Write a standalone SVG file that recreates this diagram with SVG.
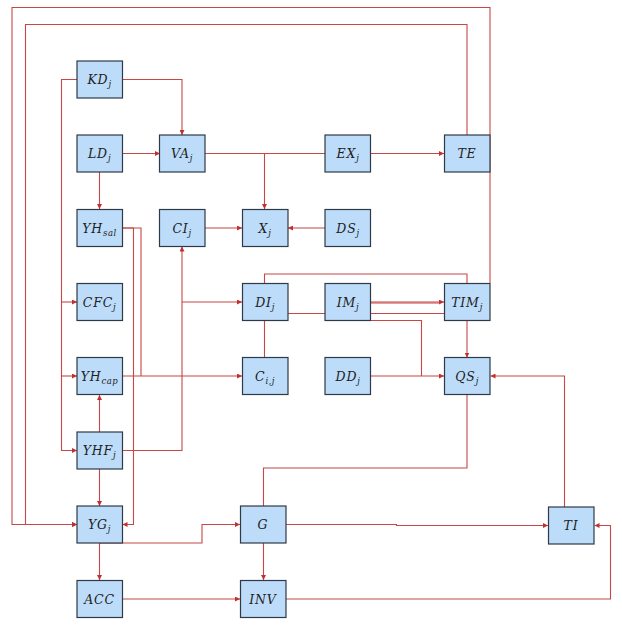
<svg xmlns="http://www.w3.org/2000/svg" width="622" height="625" viewBox="0 0 622 625">
  <style>
    .box { fill: #bcdcfa; stroke: #2f3a45; stroke-width: 1.2; }
    .lbl { font-family: "DejaVu Serif", "Liberation Serif", serif; font-style: italic; font-weight: normal; font-size: 12.5px; letter-spacing: 0.8px; fill: #222222; text-anchor: middle; }
    .sub { font-size: 8.5px; letter-spacing: 0.5px; }
    .wire { fill: none; stroke: #c84646; stroke-width: 1.1; }
    .arr { marker-end: url(#head); }
  </style>
  <defs>
    <marker id="head" viewBox="0 0 6 6" refX="6" refY="3" markerWidth="5" markerHeight="5" markerUnits="userSpaceOnUse" orient="auto">
      <path d="M0,0 L6,3 L0,6 z" fill="#c03030"/>
    </marker>
  </defs>
  <rect width="622" height="625" fill="#ffffff"/>

  <!-- connectors -->
  <g id="connectors">
    <!-- TIM feedback around the outside into YG -->
    <path class="wire arr" d="M490,283 V7.5 H12 V524.5 H77"/>
    <!-- TE feedback into YG -->
    <path class="wire arr" d="M467,135 V24.5 H25.5 V524.5 H77"/>
    <!-- KD bus on the left -->
    <path class="wire arr" d="M77,79.5 H61.5 V450.5 H77"/>
    <path class="wire arr" d="M61.5,302 H77"/>
    <path class="wire arr" d="M61.5,376 H77"/>
    <!-- KD to VA -->
    <path class="wire arr" d="M122,79.5 H182 V135"/>
    <!-- LD -->
    <path class="wire arr" d="M122,153.5 H160"/>
    <path class="wire arr" d="M99.5,172 V209"/>
    <!-- VA to EX and X -->
    <path class="wire" d="M205,153.5 H325"/>
    <path class="wire arr" d="M264.5,153.5 V209"/>
    <path class="wire arr" d="M370,153.5 H444"/>
    <!-- into X -->
    <path class="wire arr" d="M205,228 H242"/>
    <path class="wire arr" d="M325,228 H288"/>
    <!-- YH_sal outputs -->
    <path class="wire arr" d="M122,228 H133.5 V524.5 H122.5"/>
    <path class="wire" d="M122,228 H141 V376"/>
    <!-- YH_cap to C_ij -->
    <path class="wire arr" d="M122,376 H242"/>
    <!-- YHF to CI and DI -->
    <path class="wire arr" d="M122,450.5 H182 V246.5"/>
    <path class="wire arr" d="M182,302 H242"/>
    <!-- YHF up to YH_cap, down to YG -->
    <path class="wire arr" d="M99.5,432 V395"/>
    <path class="wire arr" d="M99.5,469 V506"/>
    <!-- YG to ACC and G -->
    <path class="wire arr" d="M99.5,543 V580"/>
    <path class="wire arr" d="M100,543 H202 V524.5 H240"/>
    <!-- ACC to INV -->
    <path class="wire arr" d="M122,599 H240"/>
    <!-- G to TI -->
    <path class="wire arr" d="M286,524.5 H396.5 V525.5 H548"/>
    <!-- INV to TI -->
    <path class="wire arr" d="M286,599 H610.5 V525.5 H594.5"/>
    <!-- TI to QS -->
    <path class="wire arr" d="M564.5,507 V376 H490.5"/>
    <!-- QS to INV -->
    <path class="wire arr" d="M467,394.5 V468 H263.5 V580"/>
    <!-- IM to TIM -->
    <path class="wire arr" d="M370,302 H444"/>
    <path class="wire" d="M370,303 H440"/>
    <!-- DI to QS -->
    <path class="wire arr" d="M264.5,283 V274 H467 V357.5"/>
    <!-- C_ij to QS -->
    <path class="wire" d="M264.5,358 V313.5 H467"/>
    <!-- IM to QS -->
    <path class="wire" d="M348,320.5 H421.5 V376"/>
    <!-- DD to QS -->
    <path class="wire arr" d="M370,376 H444"/>
  </g>

  <!-- nodes -->
  <g id="KD"><rect class="box" x="77" y="61" width="45.5" height="37"/><text class="lbl" x="99.5" y="84">KD<tspan class="sub" dy="3">j</tspan></text></g>
  <g id="LD"><rect class="box" x="77" y="135" width="45.5" height="37"/><text class="lbl" x="99.5" y="158">LD<tspan class="sub" dy="3">j</tspan></text></g>
  <g id="VA"><rect class="box" x="159.5" y="135" width="45.5" height="37"/><text class="lbl" x="182" y="158">VA<tspan class="sub" dy="3">j</tspan></text></g>
  <g id="EX"><rect class="box" x="325" y="135" width="45.5" height="37"/><text class="lbl" x="348" y="158">EX<tspan class="sub" dy="3">j</tspan></text></g>
  <g id="TE"><rect class="box" x="444.5" y="135" width="45.5" height="37"/><text class="lbl" x="467" y="158">TE</text></g>

  <g id="YHsal"><rect class="box" x="77" y="209.5" width="45.5" height="37"/><text class="lbl" x="99.5" y="232.5">YH<tspan class="sub" dy="3">sal</tspan></text></g>
  <g id="CI"><rect class="box" x="159.5" y="209.5" width="45.5" height="37"/><text class="lbl" x="182" y="232.5">CI<tspan class="sub" dy="3">j</tspan></text></g>
  <g id="X"><rect class="box" x="242.5" y="209.5" width="45.5" height="37"/><text class="lbl" x="265" y="232.5">X<tspan class="sub" dy="3">j</tspan></text></g>
  <g id="DS"><rect class="box" x="325" y="209.5" width="45.5" height="37"/><text class="lbl" x="348" y="232.5">DS<tspan class="sub" dy="3">j</tspan></text></g>

  <g id="CFC"><rect class="box" x="77" y="283.5" width="45.5" height="37"/><text class="lbl" x="99.5" y="306.5">CFC<tspan class="sub" dy="3">j</tspan></text></g>
  <g id="DI"><rect class="box" x="242.5" y="283.5" width="45.5" height="37"/><text class="lbl" x="265" y="306.5">DI<tspan class="sub" dy="3">j</tspan></text></g>
  <g id="IM"><rect class="box" x="325" y="283.5" width="45.5" height="37"/><text class="lbl" x="348" y="306.5">IM<tspan class="sub" dy="3">j</tspan></text></g>
  <g id="TIM"><rect class="box" x="444.5" y="283.5" width="45.5" height="37"/><text class="lbl" x="467" y="306.5">TIM<tspan class="sub" dy="3">j</tspan></text></g>

  <g id="YHcap"><rect class="box" x="77" y="357.5" width="45.5" height="37"/><text class="lbl" x="99.5" y="380.5">YH<tspan class="sub" dy="3">cap</tspan></text></g>
  <g id="Cij"><rect class="box" x="242.5" y="357.5" width="45.5" height="37"/><text class="lbl" x="265" y="380.5">C<tspan class="sub" dy="3">i,j</tspan></text></g>
  <g id="DD"><rect class="box" x="325" y="357.5" width="45.5" height="37"/><text class="lbl" x="348" y="380.5">DD<tspan class="sub" dy="3">j</tspan></text></g>
  <g id="QS"><rect class="box" x="444.5" y="357.5" width="45.5" height="37"/><text class="lbl" x="467" y="380.5">QS<tspan class="sub" dy="3">j</tspan></text></g>

  <g id="YHF"><rect class="box" x="77" y="432" width="45.5" height="37"/><text class="lbl" x="99.5" y="455">YHF<tspan class="sub" dy="3">j</tspan></text></g>

  <g id="YG"><rect class="box" x="77" y="506" width="45.5" height="37"/><text class="lbl" x="99.5" y="529">YG<tspan class="sub" dy="3">j</tspan></text></g>
  <g id="G"><rect class="box" x="240.5" y="506" width="45.5" height="37"/><text class="lbl" x="263" y="529">G</text></g>
  <g id="TI"><rect class="box" x="548.5" y="507" width="45.5" height="37"/><text class="lbl" x="571" y="530">TI</text></g>

  <g id="ACC"><rect class="box" x="77" y="580.5" width="45.5" height="37"/><text class="lbl" x="99.5" y="603.5">ACC</text></g>
  <g id="INV"><rect class="box" x="240.5" y="580.5" width="45.5" height="37"/><text class="lbl" x="263" y="603.5">INV</text></g>
</svg>
